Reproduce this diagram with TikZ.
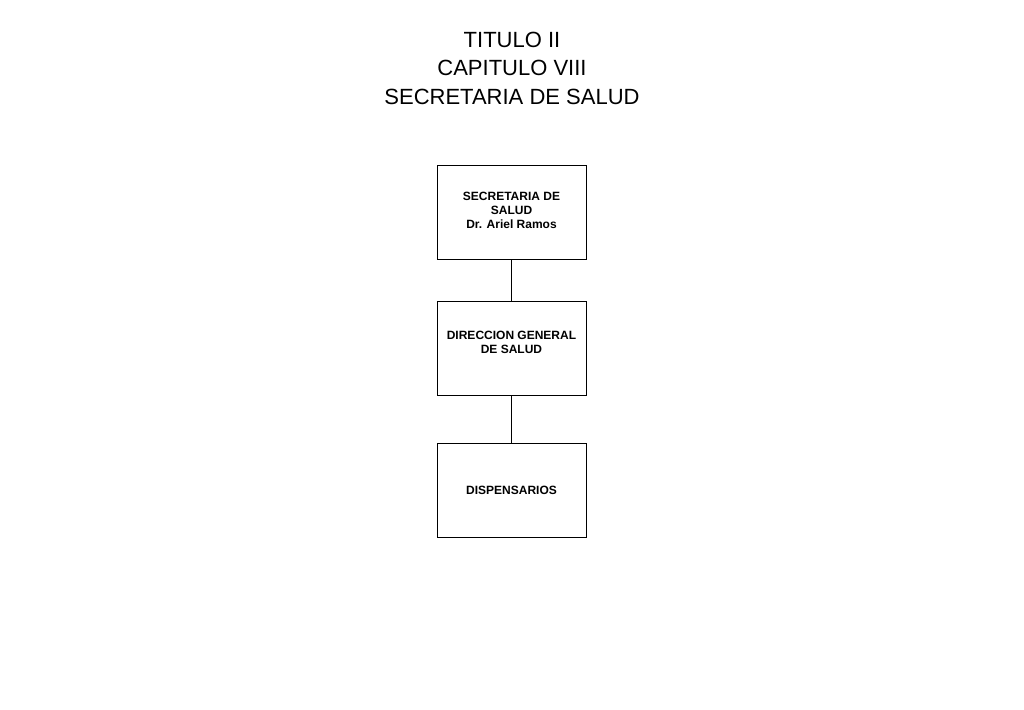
\documentclass[tikz,border=0pt]{standalone}
\usepackage{fontspec}
\setmainfont{Liberation Sans}
\begin{document}
\begin{tikzpicture}[x=0.5pt,y=-0.5pt,
  box/.style={draw,line width=0.5pt,minimum width=74.5pt,minimum height=47pt,align=center,font=\fontsize{6}{7}\selectfont\bfseries,inner sep=1pt},
  conn/.style={line width=0.5pt}]
\useasboundingbox (0,0) rectangle (1024,709);
\node[align=center,font=\fontsize{11}{14.25}\selectfont] (title) at (512,68) {TITULO II\\CAPITULO VIII\\SECRETARIA DE SALUD};
\node[box,text depth=0pt] (a) at (511.5,212) {\raisebox{0pt}{}};
\node[align=center,font=\fontsize{6}{7}\selectfont\bfseries] (at) at (511.5,210) {SECRETARIA DE\\SALUD\\Dr. Ariel Ramos};
\node[box] (b) at (511.5,348.5) {};
\node[align=center,font=\fontsize{6}{7}\selectfont\bfseries] (bt) at (511.5,342) {DIRECCION GENERAL\\DE SALUD};
\node[box] (c) at (511.5,490) {DISPENSARIOS};
\draw[conn] (a.south) -- (b.north);
\draw[conn] (b.south) -- (c.north);
\end{tikzpicture}
\end{document}
